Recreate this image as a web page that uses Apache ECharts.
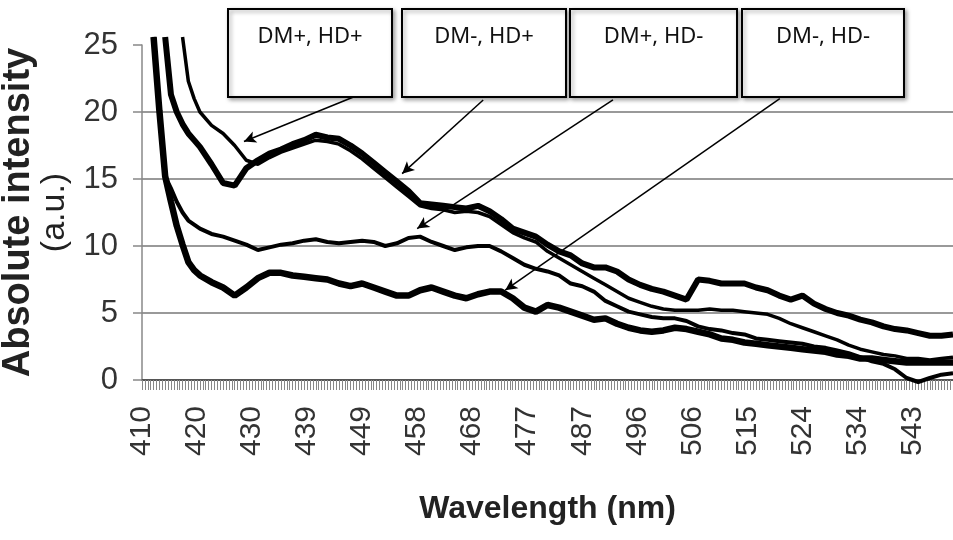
<!DOCTYPE html>
<html>
<head>
<meta charset="utf-8">
<script src="https://cdn.jsdelivr.net/npm/echarts@6/dist/echarts.min.js"></script>
<style>
html,body{margin:0;padding:0;background:#fff;}
#chart{width:953px;height:540px;}
</style>
</head>
<body>
<div id="chart"></div>
<script>
// Wavelength samples (nm)
var wavelengths = [412,413,414,415,416,417,418,419,420,
  422,424,426,428,430,432,434,436,438,440,
  442,444,446,448,450,452,454,456,458,460,
  462,464,466,468,470,472,474,476,478,480,
  482,484,486,488,490,492,494,496,498,500,
  502,504,506,508,510,512,514,516,518,520,
  522,524,526,528,530,532,534,536,538,540,
  542,544,546,548,550];

// DM+, HD+
var dmpHdp = [null,null,null,null,null,25.6,22.3,21.0,20.0,
  19.0,18.4,17.5,16.4,16.1,16.6,17.0,17.3,17.6,17.9,
  17.8,17.6,17.1,16.5,15.8,15.1,14.4,13.7,13.0,12.8,
  12.7,12.5,12.6,12.5,12.2,11.6,11.0,10.6,10.3,9.6,
  9.1,8.6,8.1,7.6,7.1,6.6,6.1,5.8,5.5,5.3,
  5.2,5.2,5.2,5.3,5.2,5.2,5.1,5.0,4.9,4.6,
  4.2,3.9,3.6,3.3,3.0,2.6,2.3,2.1,1.9,1.8,
  1.6,1.6,1.5,1.6,1.7];

// DM-, HD+
var dmmHdp = [null,null,25.6,21.3,20.0,19.1,18.4,17.9,17.4,
  16.1,14.7,14.5,15.8,16.4,16.9,17.2,17.6,17.9,18.3,
  18.1,18.0,17.5,16.9,16.2,15.5,14.8,14.1,13.2,13.1,
  13.0,12.9,12.8,13.0,12.6,12.0,11.3,11.0,10.7,10.1,
  9.6,9.3,8.7,8.4,8.4,8.1,7.5,7.1,6.8,6.6,
  6.3,6.0,7.5,7.4,7.2,7.2,7.2,6.9,6.7,6.3,
  6.0,6.3,5.7,5.3,5.0,4.8,4.5,4.3,4.0,3.8,
  3.7,3.5,3.3,3.3,3.4];

// DM+, HD-
var dmpHdm = [25.6,20.1,15.2,14.3,13.3,12.5,11.9,11.6,11.3,
  10.9,10.7,10.4,10.1,9.7,9.9,10.1,10.2,10.4,10.5,
  10.3,10.2,10.3,10.4,10.3,10.0,10.2,10.6,10.7,10.3,
  10.0,9.7,9.9,10.0,10.0,9.6,9.1,8.6,8.3,8.1,
  7.8,7.2,7.0,6.6,5.9,5.5,5.1,4.9,4.7,4.6,
  4.6,4.4,4.0,3.8,3.7,3.5,3.4,3.1,3.0,2.9,
  2.8,2.7,2.5,2.4,2.2,2.0,1.7,1.4,1.2,0.8,
  0.15,-0.15,0.15,0.4,0.5];

// DM-, HD-
var dmmHdm = [25.6,20.1,15.2,13.3,11.5,10.1,8.8,8.2,7.8,
  7.3,6.9,6.3,6.9,7.6,8.0,8.0,7.8,7.7,7.6,
  7.5,7.2,7.0,7.2,6.9,6.6,6.3,6.3,6.7,6.9,
  6.6,6.3,6.1,6.4,6.6,6.6,6.1,5.4,5.1,5.6,
  5.4,5.1,4.8,4.5,4.6,4.2,3.9,3.7,3.6,3.7,
  3.9,3.8,3.6,3.4,3.1,3.0,2.8,2.7,2.6,2.5,
  2.4,2.3,2.2,2.1,1.9,1.8,1.6,1.6,1.5,1.4,
  1.3,1.3,1.3,1.3,1.3];

// x-axis tick positions (nm) and their printed labels
var xTickPos = [410,419.5,429,438.5,448,457.5,467,476.5,486,495.5,505,514.5,524,533.5,543];
var xTickLabels = ['410','420','430','439','449','458','468','477','487','496','506','515','524','534','543'];

// y-axis ticks
var yTicks = [0,5,10,15,20,25];

// Callout boxes and arrows (arrow from/to in data units)
var boxNames = ['DM+, HD+','DM-, HD+','DM+, HD-','DM-, HD-'];
var arrowFrom = [[446.4,21.1],[468.9,20.9],[491.3,20.9],[520.1,21.0]];
var arrowTo = [[427.6,17.8],[454.9,15.4],[457.5,11.3],[472.7,6.7]];

function pairs(ys){ return wavelengths.map(function(w,i){ return [w, ys[i]]; }); }

var boxRects = [[228,9,164,88],[402,9,164,88],[570,9,167,88],[742,9,162,88]];
var graphics = [];
boxNames.forEach(function(name, i){
  var r = boxRects[i];
  graphics.push({
    type:'rect', shape:{x:r[0], y:r[1], width:r[2], height:r[3]},
    style:{fill:'#fff', stroke:'#000', lineWidth:2, shadowBlur:4, shadowOffsetX:2, shadowOffsetY:2, shadowColor:'rgba(0,0,0,0.35)'},
    z:100
  });
  graphics.push({
    type:'text', x:r[0]+r[2]/2, y:r[1]+28,
    style:{text:name, fontSize:22, fontFamily:'Noto Sans', fill:'#111', align:'center', verticalAlign:'middle', textAlign:'center', textVerticalAlign:'middle'},
    z:101
  });
});

var arrows = arrowFrom.map(function(f,i){ return [{coord:f},{coord:arrowTo[i]}]; });

var lineCommon = {type:'line', showSymbol:false, symbol:'none', clip:false, smooth:false, silent:true, animation:false};

var chart = echarts.init(document.getElementById('chart'), null, {renderer:'canvas'});
chart.setOption({
  animation:false,
  backgroundColor:'#fff',
  grid:{left:142, right:0, top:45, bottom:160, containLabel:false, outerBoundsMode:'none'},
  xAxis:[{
    type:'value', min:410, max:550,
    axisLine:{show:true, onZero:false, lineStyle:{color:'#555', width:2}},
    axisTick:{show:false},
    splitLine:{show:false},
    axisLabel:{
      customValues:xTickPos, rotate:90, margin:26,
      fontSize:30, fontFamily:'Liberation Sans', color:'#333',
      formatter:function(v){ var k = xTickPos.indexOf(v); return k >= 0 ? xTickLabels[k] : ''; }
    },
    name:'Wavelength (nm)', nameLocation:'middle', nameGap:113,
    nameTextStyle:{fontSize:32, fontWeight:'bold', fontFamily:'Liberation Sans', color:'#222'}
  },{
    type:'value', min:410, max:550, interval:0.5, position:'bottom',
    axisLine:{show:false},
    axisTick:{show:true, length:10, lineStyle:{color:'#888', width:1}},
    axisLabel:{show:false}, splitLine:{show:false}
  }],
  yAxis:{
    type:'value', min:0, max:25, interval:5,
    axisLine:{show:true, lineStyle:{color:'#888', width:1.5}},
    axisTick:{show:true, length:9, lineStyle:{color:'#888', width:1.5}},
    splitLine:{show:true, showMinLine:false, showMaxLine:false, lineStyle:{color:'#999', width:2}},
    axisLabel:{margin:24, fontSize:31, fontFamily:'Liberation Sans', color:'#333',
      formatter:function(v){ return yTicks.indexOf(v) >= 0 ? String(v) : ''; }},
    name:'{t1|Absolute intensity}\n{t2|(a.u.)}', nameLocation:'middle', nameRotate:90, nameGap:51,
    nameTextStyle:{align:'center', fontSize:34, fontFamily:'Liberation Sans', color:'#222', lineHeight:36, rich:{
      t1:{fontSize:38, fontWeight:'bold', fontFamily:'Liberation Sans', color:'#222', lineHeight:36, align:'center'},
      t2:{fontSize:34, fontWeight:'normal', fontFamily:'Liberation Sans', color:'#222', lineHeight:36, align:'center'}
    }}
  },
  series:[
    Object.assign({}, lineCommon, {name:'DM+, HD+', data:pairs(dmpHdp), lineStyle:{color:'#000', width:3.5},
      markLine:{silent:true, animation:false, symbol:['none','arrow'], symbolSize:[9,12], label:{show:false},
        lineStyle:{color:'#000', width:1.5, type:'solid'}, emphasis:{disabled:true}, data:arrows}}),
    Object.assign({}, lineCommon, {name:'DM-, HD+', data:pairs(dmmHdp), lineStyle:{color:'#000', width:6}}),
    Object.assign({}, lineCommon, {name:'DM+, HD-', data:pairs(dmpHdm), lineStyle:{color:'#000', width:4}}),
    Object.assign({}, lineCommon, {name:'DM-, HD-', data:pairs(dmmHdm), lineStyle:{color:'#000', width:6.5}})
  ],
  graphic:graphics
});
</script>
</body>
</html>
